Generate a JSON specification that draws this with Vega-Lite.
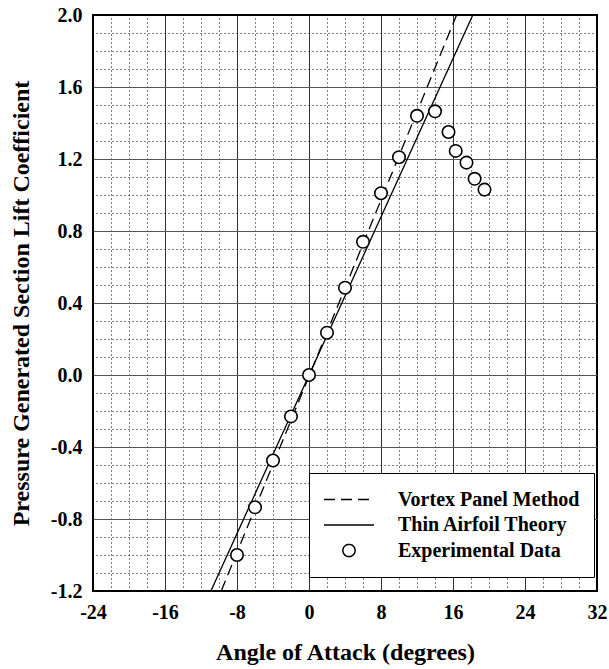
{
  "$schema": "https://vega.github.io/schema/vega-lite/v6.json",
  "width": 504,
  "height": 576,
  "autosize": {"type": "none"},
  "padding": {"left": 93, "top": 15, "right": 12, "bottom": 78},
  "config": {
    "font": "Liberation Serif",
    "view": {"stroke": "black", "strokeWidth": 2},
    "axis": {
      "labelFont": "Liberation Serif",
      "labelFontSize": 20,
      "labelFontWeight": "bold",
      "labelColor": "black",
      "titleFont": "Liberation Serif",
      "titleFontSize": 24,
      "titleFontWeight": "bold",
      "titleColor": "black",
      "domain": false,
      "ticks": false,
      "labelFlush": false,
      "labelOverlap": false,
      "labelBound": false
    }
  },
  "datasets": {
    "theory": [
      {"series": "Vortex Panel Method", "alpha": -9.75, "cl": -1.2},
      {"series": "Vortex Panel Method", "alpha": 16.4, "cl": 2.0},
      {"series": "Thin Airfoil Theory", "alpha": -10.9, "cl": -1.2},
      {"series": "Thin Airfoil Theory", "alpha": 18.2, "cl": 2.0}
    ],
    "experiment": [
      {"series": "Experimental Data", "alpha": -8, "cl": -1.0},
      {"series": "Experimental Data", "alpha": -6, "cl": -0.735},
      {"series": "Experimental Data", "alpha": -4, "cl": -0.475},
      {"series": "Experimental Data", "alpha": -2, "cl": -0.23},
      {"series": "Experimental Data", "alpha": 0, "cl": 0.0},
      {"series": "Experimental Data", "alpha": 2, "cl": 0.235},
      {"series": "Experimental Data", "alpha": 4, "cl": 0.485},
      {"series": "Experimental Data", "alpha": 6, "cl": 0.74},
      {"series": "Experimental Data", "alpha": 8, "cl": 1.01},
      {"series": "Experimental Data", "alpha": 10, "cl": 1.21},
      {"series": "Experimental Data", "alpha": 12, "cl": 1.44},
      {"series": "Experimental Data", "alpha": 14, "cl": 1.465},
      {"series": "Experimental Data", "alpha": 15.5, "cl": 1.35},
      {"series": "Experimental Data", "alpha": 16.3, "cl": 1.245},
      {"series": "Experimental Data", "alpha": 17.5, "cl": 1.18},
      {"series": "Experimental Data", "alpha": 18.4, "cl": 1.09},
      {"series": "Experimental Data", "alpha": 19.5, "cl": 1.03}
    ]
  },
  "layer": [
    {
      "data": {"name": "theory"},
      "mark": {"type": "line", "stroke": "black", "strokeWidth": 1.3, "clip": true},
      "encoding": {
        "x": {
          "field": "alpha", "type": "quantitative",
          "scale": {"domain": [-24, 32], "nice": false, "zero": false},
          "axis": {
            "orient": "bottom",
            "title": "Angle of Attack (degrees)",
            "values": [-24, -16, -8, 0, 8, 16, 24, 32],
            "format": "d",
            "labelExpr": "replace(datum.label, '\u2212', '-')",
            "labelPadding": 11,
            "titlePadding": 18,
            "grid": true,
            "gridWidth": 1,
            "gridColor": {"condition": {"test": "datum.value == -24 || datum.value == 32", "value": "black"}, "value": "#333333"}
          }
        },
        "y": {
          "field": "cl", "type": "quantitative",
          "scale": {"domain": [-1.2, 2.0], "nice": false, "zero": false},
          "axis": {
            "orient": "left",
            "title": "Pressure Generated Section Lift Coefficient",
            "values": [-1.2, -0.8, -0.4, 0, 0.4, 0.8, 1.2, 1.6, 2.0],
            "format": ".1f",
            "labelExpr": "replace(datum.label, '\u2212', '-')",
            "labelPadding": 11,
            "titlePadding": 17,
            "grid": true,
            "gridWidth": 1,
            "gridColor": {"condition": {"test": "datum.value == -1.2 || datum.value == 2", "value": "black"}, "value": "#555555"}
          }
        },
        "strokeDash": {
          "field": "series", "type": "nominal",
          "scale": {
            "domain": ["Vortex Panel Method", "Thin Airfoil Theory", "Experimental Data"],
            "range": [[11, 6], [1, 0], [1, 0]]
          },
          "legend": {
            "title": null, "orient": "none", "legendX": 216, "legendY": 458,
            "padding": 14, "strokeColor": "black", "fillColor": "white",
            "labelFont": "Liberation Serif", "labelFontSize": 20, "labelFontWeight": "bold",
            "labelColor": "black", "labelLimit": 400, "labelOffset": 23,
            "clipHeight": 25, "rowPadding": 0.5, "columns": 1,
            "symbolSize": 2500, "symbolType": "stroke",
            "symbolStrokeWidth": 1.5, "symbolStrokeColor": "black", "symbolFillColor": "white",
            "encode": {
              "symbols": {
                "update": {
                  "shape": {"signal": "datum.value === 'Experimental Data' ? 'circle' : 'stroke'"},
                  "size": {"signal": "datum.value === 'Experimental Data' ? 150 : 2500"},
                  "strokeDash": {"signal": "datum.value === 'Vortex Panel Method' ? [12, 7] : [1, 0]"},
                  "stroke": {"value": "black"},
                  "strokeWidth": {"value": 1.5},
                  "fill": {"value": "white"},
                  "opacity": {"value": 1}
                }
              }
            }
          }
        }
      }
    },
    {
      "data": {"name": "experiment"},
      "mark": {"type": "point", "filled": true, "fill": "white", "stroke": "black", "strokeWidth": 1.6, "opacity": 1, "size": 155},
      "encoding": {
        "x": {
          "field": "alpha", "type": "quantitative",
          "scale": {"domain": [-24, 32], "nice": false, "zero": false},
          "axis": {
            "orient": "top", "title": null, "labels": false,
            "values": [-22, -20, -18, -14, -12, -10, -6, -4, -2, 2, 4, 6, 10, 12, 14, 18, 20, 22, 26, 28, 30],
            "grid": true, "gridColor": "black", "gridDash": [1, 3], "gridWidth": 1
          }
        },
        "y": {
          "field": "cl", "type": "quantitative",
          "scale": {"domain": [-1.2, 2.0], "nice": false, "zero": false},
          "axis": {
            "orient": "right", "title": null, "labels": false,
            "values": [-1.1, -1.0, -0.9, -0.7, -0.6, -0.5, -0.3, -0.2, -0.1, 0.1, 0.2, 0.3, 0.5, 0.6, 0.7, 0.9, 1.0, 1.1, 1.3, 1.4, 1.5, 1.7, 1.8, 1.9],
            "grid": true, "gridColor": "black", "gridDash": [1, 3], "gridWidth": 1
          }
        }
      }
    }
  ],
  "resolve": {"axis": {"x": "independent", "y": "independent"}}
}
